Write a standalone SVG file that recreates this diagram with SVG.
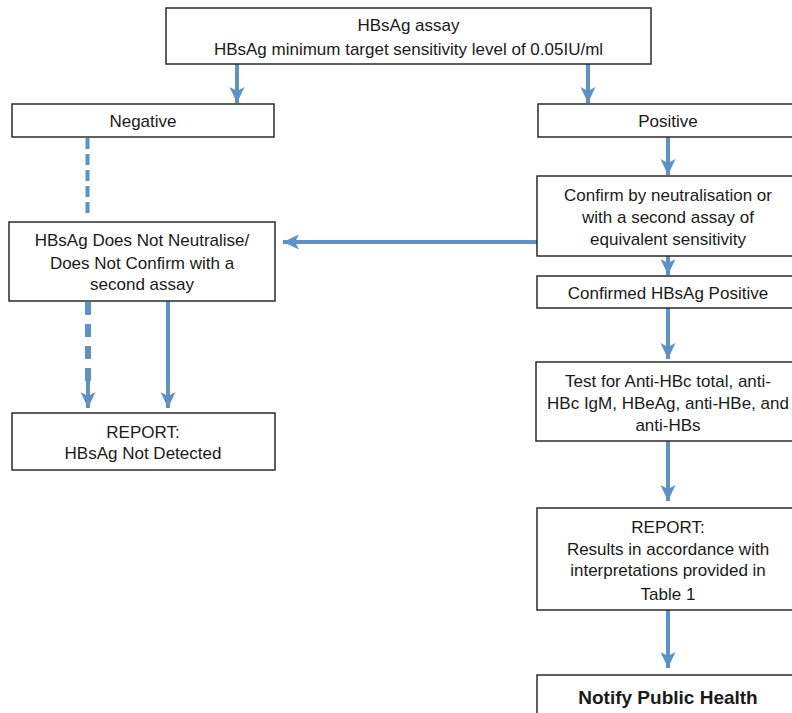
<svg xmlns="http://www.w3.org/2000/svg" width="792" height="713" viewBox="0 0 792 713">
<style>
.box{fill:#fff;stroke:#2b2b2b;stroke-width:1.5}
text{font-family:"Liberation Sans",Arial,sans-serif;font-size:17px;fill:#1a1a1a;text-anchor:middle}
.b{font-weight:bold;font-size:19px}
.c{fill:none;stroke:#5b92c8;stroke-width:4}
.d1{stroke-dasharray:11 5}
.d2{stroke-width:6;stroke-dasharray:13 9}
</style>
<defs>
<marker id="ah" markerUnits="userSpaceOnUse" viewBox="0 0 16 15" refX="16" refY="7.5" markerWidth="16" markerHeight="15" orient="auto">
<path d="M0,0 L16,7.5 L0,15 L4,7.5 Z" fill="#5b92c8"/>
</marker>
</defs>
<rect width="792" height="713" fill="#fff"/>
<g id="connectors">
<line class="c" x1="237" y1="64" x2="237" y2="103" marker-end="url(#ah)"/>
<line class="c" x1="588" y1="64" x2="588" y2="103" marker-end="url(#ah)"/>
<line class="c d1" x1="87.5" y1="138" x2="87.5" y2="214"/>
<line class="c" x1="668" y1="137" x2="668" y2="175" marker-end="url(#ah)"/>
<line class="c" x1="537" y1="242" x2="283" y2="242" marker-end="url(#ah)"/>
<line class="c" x1="668" y1="256" x2="668" y2="275" marker-end="url(#ah)"/>
<line class="c d2" x1="88" y1="302" x2="88" y2="385"/>
<line class="c" x1="88" y1="380" x2="88" y2="408" marker-end="url(#ah)"/>
<line class="c" x1="168" y1="301" x2="168" y2="408" marker-end="url(#ah)"/>
<line class="c" x1="668" y1="308" x2="668" y2="359" marker-end="url(#ah)"/>
<line class="c" x1="668" y1="441" x2="668" y2="501" marker-end="url(#ah)"/>
<line class="c" x1="668" y1="610" x2="668" y2="668" marker-end="url(#ah)"/>
</g>
<g id="n-assay">
<rect class="box" x="166" y="8" width="485" height="56"/>
<text x="408.5" y="31">HBsAg assay</text>
<text x="408.5" y="55">HBsAg minimum target sensitivity level of 0.05IU/ml</text>
</g>
<g id="n-negative">
<rect class="box" x="12" y="104" width="262" height="33"/>
<text x="143" y="127">Negative</text>
</g>
<g id="n-positive">
<rect class="box" x="538" y="104" width="260" height="33"/>
<text x="668" y="127">Positive</text>
</g>
<g id="n-confirm">
<rect class="box" x="537" y="176" width="260" height="80"/>
<text x="668" y="201">Confirm by neutralisation or</text>
<text x="668" y="223">with a second assay of</text>
<text x="668" y="245">equivalent sensitivity</text>
</g>
<g id="n-noneutral">
<rect class="box" x="9" y="222" width="266" height="79"/>
<text x="142" y="246">HBsAg Does Not Neutralise/</text>
<text x="142" y="268.5">Does Not Confirm with a</text>
<text x="142" y="290">second assay</text>
</g>
<g id="n-confirmed">
<rect class="box" x="537" y="276" width="260" height="32"/>
<text x="668" y="299">Confirmed HBsAg Positive</text>
</g>
<g id="n-report-left">
<rect class="box" x="12" y="413" width="263" height="57"/>
<text x="143" y="437.5">REPORT:</text>
<text x="143" y="459">HBsAg Not Detected</text>
</g>
<g id="n-test">
<rect class="box" x="536" y="362" width="261" height="79"/>
<text x="668" y="386.5">Test for Anti-HBc total, anti-</text>
<text x="668" y="409">HBc IgM, HBeAg, anti-HBe, and</text>
<text x="668" y="431">anti-HBs</text>
</g>
<g id="n-report-right">
<rect class="box" x="537" y="508" width="260" height="102"/>
<text x="668" y="533">REPORT:</text>
<text x="668" y="555">Results in accordance with</text>
<text x="668" y="576">interpretations provided in</text>
<text x="668" y="600">Table 1</text>
</g>
<g id="n-notify">
<rect class="box" x="537" y="675" width="260" height="45"/>
<text class="b" x="668" y="703.5">Notify Public Health</text>
</g>
</svg>
